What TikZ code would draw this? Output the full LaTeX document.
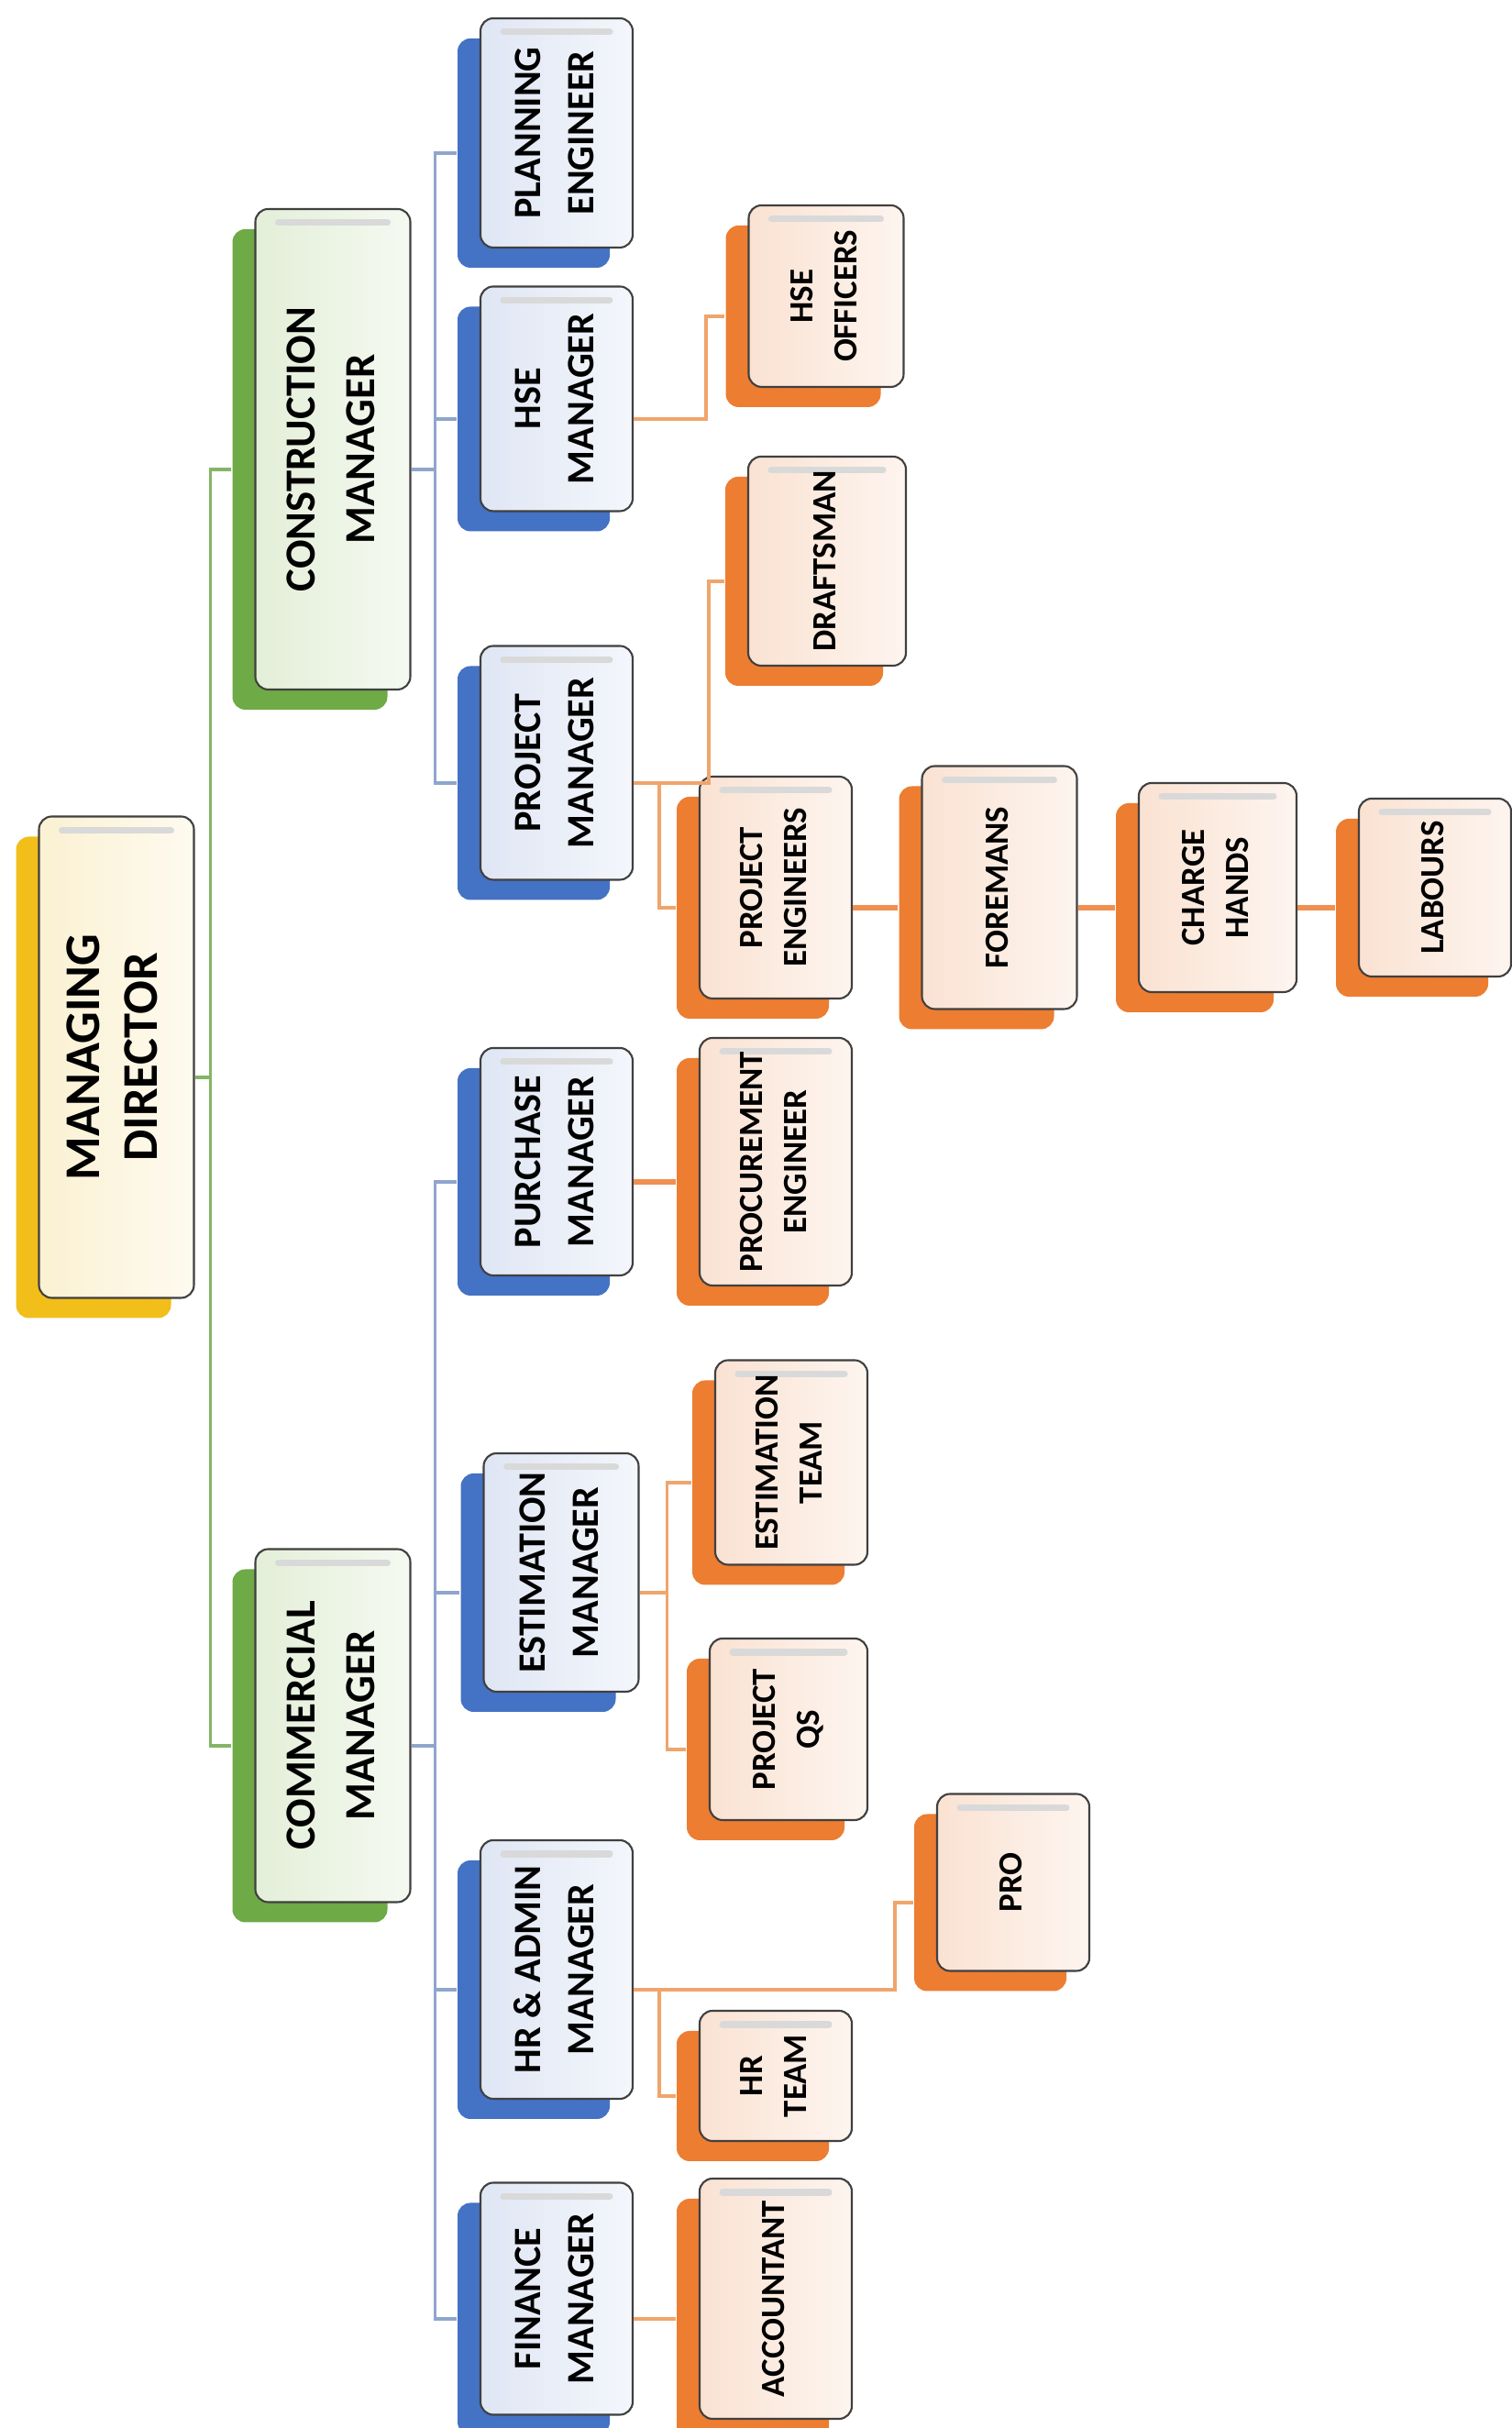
\documentclass[tikz,border=0pt]{standalone}
\usepackage{fontspec}
\setmainfont{Carlito}
\usepackage{graphicx}
\usetikzlibrary{shadows}

\definecolor{mdyellow}{HTML}{F2BE1A}
\definecolor{mdfront}{HTML}{FBF1D2}
\definecolor{mggreen}{HTML}{6EAA45}
\definecolor{mgfront}{HTML}{E3EFD8}
\definecolor{stblue}{HTML}{4472C4}
\definecolor{stfront}{HTML}{DFE6F4}
\definecolor{tmorange}{HTML}{ED7D31}
\definecolor{tmfront}{HTML}{FAE2D2}
\definecolor{greenwire}{HTML}{84B565}
\definecolor{bluewire}{HTML}{8FA5CC}
\definecolor{orangewire}{HTML}{F0A56C}

\newcommand{\vlab}[1]{\rotatebox{90}{\begin{tabular}{@{}c@{}}#1\end{tabular}}}

\tikzset{
  card/.style={rectangle, rounded corners=4pt, draw=black!75, line width=0.6pt, inner sep=0pt,
    path picture={\draw[black!15, line width=2pt, line cap=round]
      ([xshift=2.5mm,yshift=-1.5mm]path picture bounding box.north west) --
      ([xshift=-2.5mm,yshift=-1.5mm]path picture bounding box.north east);}},
  backcard/.style={drop shadow={shadow xshift=-2.5mm, shadow yshift=-2.2mm, fill=#1, opacity=1}},
  mdbox/.style={card, backcard=mdyellow, left color=mdfront, right color=mdfront!35,
    font=\fontsize{15.5}{18}\selectfont\bfseries},
  mgbox/.style={card, backcard=mggreen, left color=mgfront, right color=mgfront!35,
    font=\fontsize{13.3}{18.5}\selectfont\bfseries},
  stbox/.style={card, backcard=stblue, left color=stfront, right color=stfront!35,
    font=\fontsize{12}{16.5}\selectfont\bfseries},
  tmbox/.style={card, backcard=tmorange, left color=tmfront, right color=tmfront!35,
    font=\fontsize{10.5}{13.5}\selectfont\bfseries},
  greenlink/.style={draw=greenwire, line width=0.9pt},
  bluelink/.style={draw=bluewire, line width=0.9pt},
  orangelink/.style={draw=orangewire, line width=0.9pt},
  orangechain/.style={draw=tmorange!85, line width=1.6pt}
}

\begin{document}
\begin{tikzpicture}
    \path[fill=white, use as bounding box] (0,0) rectangle (16.49,26.48);

    % top
    \node[mdbox, minimum width=1.69cm, minimum height=5.25cm] (md) at (1.27,14.95) {\vlab{MANAGING\\DIRECTOR}};

    % managers
    \node[mgbox, minimum width=1.69cm, minimum height=5.24cm] (cm) at (3.63,21.58) {\vlab{CONSTRUCTION\\MANAGER}};
    \node[mgbox, minimum width=1.69cm, minimum height=3.85cm] (comm) at (3.63,7.66) {\vlab{COMMERCIAL\\MANAGER}};

    % construction side
    \node[stbox, minimum width=1.66cm, minimum height=2.50cm] (plan) at (6.07,25.03) {\vlab{PLANNING\\ENGINEER}};
    \node[stbox, minimum width=1.66cm, minimum height=2.45cm] (hsem) at (6.07,22.13) {\vlab{HSE\\MANAGER}};
    \node[stbox, minimum width=1.66cm, minimum height=2.55cm] (pm) at (6.07,18.16) {\vlab{PROJECT\\MANAGER}};

    \node[tmbox, minimum width=1.69cm, minimum height=1.98cm] (hseo) at (9.01,23.25) {\vlab{HSE\\OFFICERS}};
    \node[tmbox, minimum width=1.72cm, minimum height=2.28cm] (draft) at (9.02,20.36) {\vlab{DRAFTSMAN}};
    \node[tmbox, minimum width=1.66cm, minimum height=2.42cm] (pe) at (8.46,16.80) {\vlab{PROJECT\\ENGINEERS}};
    \node[tmbox, minimum width=1.69cm, minimum height=2.65cm] (fore) at (10.90,16.80) {\vlab{FOREMANS}};
    \node[tmbox, minimum width=1.72cm, minimum height=2.28cm] (ch) at (13.28,16.80) {\vlab{CHARGE\\HANDS}};
    \node[tmbox, minimum width=1.66cm, minimum height=1.94cm] (lab) at (15.65,16.80) {\vlab{LABOURS}};

    % commercial side
    \node[stbox, minimum width=1.66cm, minimum height=2.48cm] (purm) at (6.07,13.81) {\vlab{PURCHASE\\MANAGER}};
    \node[stbox, minimum width=1.69cm, minimum height=2.60cm] (estm) at (6.12,9.33) {\vlab{ESTIMATION\\MANAGER}};
    \node[stbox, minimum width=1.66cm, minimum height=2.82cm] (hrm) at (6.07,5.00) {\vlab{HR \& ADMIN\\MANAGER}};
    \node[stbox, minimum width=1.66cm, minimum height=2.53cm] (finm) at (6.07,1.41) {\vlab{FINANCE\\MANAGER}};

    \node[tmbox, minimum width=1.66cm, minimum height=2.70cm] (proc) at (8.46,13.81) {\vlab{PROCUREMENT\\ENGINEER}};
    \node[tmbox, minimum width=1.66cm, minimum height=2.23cm] (estt) at (8.63,10.53) {\vlab{ESTIMATION\\TEAM}};
    \node[tmbox, minimum width=1.72cm, minimum height=1.98cm] (pqs) at (8.60,7.62) {\vlab{PROJECT\\QS}};
    \node[tmbox, minimum width=1.66cm, minimum height=1.93cm] (pro) at (11.05,5.95) {\vlab{PRO}};
    \node[tmbox, minimum width=1.66cm, minimum height=1.42cm] (hrt) at (8.46,3.84) {\vlab{HR\\TEAM}};
    \node[tmbox, minimum width=1.66cm, minimum height=2.62cm] (acc) at (8.46,1.41) {\vlab{ACCOUNTANT}};

    % director to managers
    \draw[greenlink] ([yshift=-2.2mm]md.east) -- ++(0.17,0) coordinate (mdj);
    \draw[greenlink] ([xshift=-2.5mm,yshift=-2.2mm]cm.west) -| (mdj) |- ([xshift=-2.5mm,yshift=-2.2mm]comm.west);

    % construction manager
    \draw[bluelink] ([yshift=-2.2mm]cm.east) -- ++(0.26,0) coordinate (cmj);
    \draw[bluelink] ([xshift=-2.5mm,yshift=-2.2mm]plan.west) -| (cmj) |- ([xshift=-2.5mm,yshift=-2.2mm]pm.west);
    \draw[bluelink] ([xshift=-2.5mm,yshift=-2.2mm]hsem.west) -| (cmj);

    \draw[orangelink] ([yshift=-2.2mm]hsem.east) -- ++(0.79,0) |- ([xshift=-2.5mm,yshift=-2.2mm]hseo.west);
    \draw[orangelink] ([yshift=-2.2mm]pm.east) -- ++(0.82,0) |- ([xshift=-2.5mm,yshift=-2.2mm]draft.west);
    \draw[orangelink] ([yshift=-2.2mm]pm.east) -- ++(0.28,0) |- ([xshift=-2.5mm,yshift=-2.2mm]pe.west);
    \draw[orangechain] ([yshift=-2.2mm]pe.east) -- ([xshift=-2.5mm,yshift=-2.2mm]fore.west);
    \draw[orangechain] ([yshift=-2.2mm]fore.east) -- ([xshift=-2.5mm,yshift=-2.2mm]ch.west);
    \draw[orangechain] ([yshift=-2.2mm]ch.east) -- ([xshift=-2.5mm,yshift=-2.2mm]lab.west);

    % commercial manager
    \draw[bluelink] ([yshift=-2.2mm]comm.east) -- ++(0.26,0) coordinate (comj);
    \draw[bluelink] ([xshift=-2.5mm,yshift=-2.2mm]purm.west) -| (comj) |- ([xshift=-2.5mm,yshift=-2.2mm]finm.west);
    \draw[bluelink] ([xshift=-2.5mm,yshift=-2.2mm]estm.west) -| (comj);
    \draw[bluelink] ([xshift=-2.5mm,yshift=-2.2mm]hrm.west) -| (comj);

    \draw[orangechain] ([yshift=-2.2mm]purm.east) -- ([xshift=-2.5mm,yshift=-2.2mm]proc.west);
    \draw[orangelink] ([yshift=-2.2mm]estm.east) -- ++(0.30,0) coordinate (estj);
    \draw[orangelink] ([xshift=-2.5mm,yshift=-2.2mm]estt.west) -| (estj) |- ([xshift=-2.5mm,yshift=-2.2mm]pqs.west);
    \draw[orangelink] ([yshift=-2.2mm]hrm.east) -- ++(2.85,0) |- ([xshift=-2.5mm,yshift=-2.2mm]pro.west);
    \draw[orangelink] ([yshift=-2.2mm]hrm.east) -- ++(0.28,0) |- ([xshift=-2.5mm,yshift=-2.2mm]hrt.west);
    \draw[orangelink] ([yshift=-2.2mm]finm.east) -- ([xshift=-2.5mm,yshift=-2.2mm]acc.west);
\end{tikzpicture}
\end{document}
